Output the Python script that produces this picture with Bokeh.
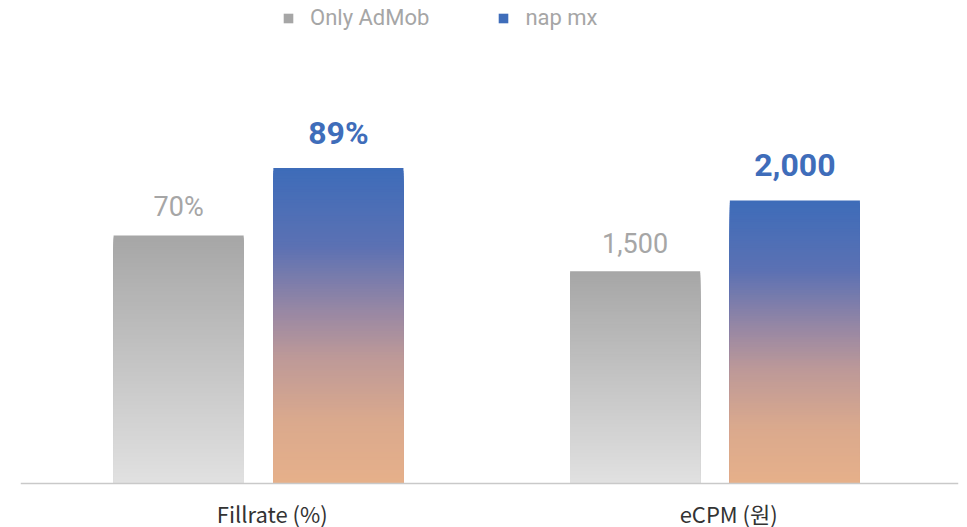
import numpy as np
from bokeh.plotting import figure
from bokeh.models import ColumnDataSource, Range1d, Span, Legend, LegendItem, FactorRange
from bokeh.transform import dodge
from bokeh.core.properties import value
from bokeh.embed import file_html
from bokeh.resources import INLINE

# ---- data ----
categories = ["Fillrate (%)", "eCPM (원)"]
series_names = ["Only AdMob", "nap mx"]
only_admob = [70, 1500]
nap_mx = [89, 2000]
only_admob_labels = ["70%", "1,500"]
nap_mx_labels = ["89%", "2,000"]

# ---- style ----
GRAY = "#a6a6a6"
BLUE = "#3f6dba"
gray_stops = [(0.0, "#a6a6a6"), (1.0, "#e1e1e1")]
blue_stops = [(0.0, "#3d6cb9"), (0.25, "#5c71b3"), (0.45, "#9787a4"),
              (0.6, "#bd9998"), (0.8, "#daa98d"), (1.0, "#e6b08a")]
N_SEG = 120
BAR_W = 0.285
OFF = [-0.181, 0.169]
LABEL_OFF = 0.024

W, H = 967, 527
BASE_FROM_BOTTOM = 44
ABOVE = H - BASE_FROM_BOTTOM
fill_top = 136.3
ecpm_top = 3413.0


def hex2rgb(h):
    h = h.lstrip("#")
    return np.array([int(h[i:i + 2], 16) for i in (0, 2, 4)], dtype=float)


def interp(stops, f):
    for (f0, c0), (f1, c1) in zip(stops[:-1], stops[1:]):
        if f0 <= f <= f1:
            t = (f - f0) / (f1 - f0) if f1 > f0 else 0
            c = hex2rgb(c0) * (1 - t) + hex2rgb(c1) * t
            return "#%02x%02x%02x" % tuple(int(round(v)) for v in c)
    return stops[-1][1]


xr = FactorRange(*categories, range_padding=0.0274, range_padding_units="absolute")
p = figure(width=W, height=H, x_range=xr,
           y_range=Range1d(-fill_top * BASE_FROM_BOTTOM / ABOVE, fill_top),
           output_backend="svg", toolbar_location=None,
           x_axis_location=None, y_axis_location=None,
           min_border_left=20, min_border_right=9,
           min_border_top=0, min_border_bottom=0)
p.extra_y_ranges = {"ecpm": Range1d(-ecpm_top * BASE_FROM_BOTTOM / ABOVE, ecpm_top)}
p.outline_line_color = None
p.xgrid.visible = False
p.ygrid.visible = False
p.background_fill_color = "white"
p.border_fill_color = "white"

series = [
    (only_admob, only_admob_labels, OFF[0], gray_stops, GRAY, "normal", "27px", 28),
    (nap_mx, nap_mx_labels, OFF[1], blue_stops, BLUE, "bold", "32px", 35),
]

for ci, cat in enumerate(categories):
    rng = "default" if ci == 0 else "ecpm"
    for vals, labels, off, stops, tcol, tstyle, tsize, yoff in series:
        v = vals[ci]
        xs, tops, cols = [], [], []
        for i in range(N_SEG - 1, -1, -1):
            xs.append(cat)
            tops.append(v * (i + 1) / N_SEG)
            cols.append(interp(stops, 1 - (i + 0.5) / N_SEG))
        src = ColumnDataSource(dict(x=xs, top=tops, color=cols))
        p.vbar(x=dodge("x", off, range=p.x_range), width=BAR_W, bottom=0, top="top",
               fill_color="color", line_color=None, source=src, y_range_name=rng)
        lsrc = ColumnDataSource(dict(x=[cat], y=[v], t=[labels[ci]]))
        p.text(x=dodge("x", off, range=p.x_range), y="y", text="t", source=lsrc,
               y_range_name=rng, text_align="center", text_baseline="alphabetic",
               y_offset=-yoff, text_color=tcol, text_font_style=tstyle,
               text_font_size=tsize, text_font=value("Roboto"))

# baseline
p.add_layout(Span(location=0, dimension="width", line_color="#c9c9c9", line_width=1.5))

# category labels
csrc = ColumnDataSource(dict(x=categories, y=[0, 0]))
p.text(x=dodge("x", LABEL_OFF, range=p.x_range), y="y", text="x", source=csrc,
       text_align="center", text_baseline="alphabetic", y_offset=29,
       text_color="#333333", text_font_size="22px",
       text_font=value("Noto Sans CJK KR"))

# legend (proxy renderers with zero-height bars)
r1 = p.vbar(x=[categories[0]], bottom=[0], top=[0], width=0.01, fill_color=GRAY, line_color=None)
r2 = p.vbar(x=[categories[0]], bottom=[0], top=[0], width=0.01, fill_color=BLUE, line_color=None)
legend = Legend(items=[LegendItem(label=series_names[0], renderers=[r1]),
                       LegendItem(label=series_names[1], renderers=[r2])],
                orientation="horizontal", location=(262, H - 30),
                border_line_color=None, background_fill_alpha=0,
                padding=0, margin=0, spacing=68, label_standoff=16,
                glyph_width=12, glyph_height=12,
                label_text_font_size="22px", label_text_color=GRAY,
                label_text_font="Roboto")
p.add_layout(legend)

open("out.html", "w").write(file_html(p, INLINE))
